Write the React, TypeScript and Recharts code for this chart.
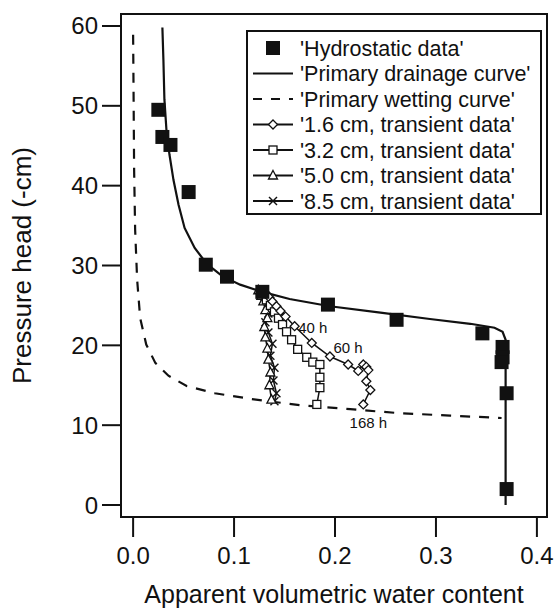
import React from 'react';
import {
  ScatterChart,
  Scatter,
  XAxis,
  YAxis,
  ReferenceArea,
  ReferenceDot,
} from 'recharts';

type Pt = { x: number; y: number };

// 'Hydrostatic data'
const hydrostatic: Pt[] = [
  { x: 0.025, y: 49.5 },
  { x: 0.029, y: 46.1 },
  { x: 0.037, y: 45.1 },
  { x: 0.055, y: 39.2 },
  { x: 0.072, y: 30.1 },
  { x: 0.093, y: 28.6 },
  { x: 0.128, y: 26.7 },
  { x: 0.193, y: 25.1 },
  { x: 0.261, y: 23.2 },
  { x: 0.346, y: 21.5 },
  { x: 0.366, y: 19.8 },
  { x: 0.366, y: 18.5 },
  { x: 0.365, y: 17.9 },
  { x: 0.37, y: 14.0 },
  { x: 0.37, y: 2.0 },
];

// 'Primary drainage curve'
const drainage: Pt[] = [
  { x: 0.029, y: 59.8 },
  { x: 0.03, y: 55.8 },
  { x: 0.031, y: 50.8 },
  { x: 0.033, y: 47.0 },
  { x: 0.036, y: 43.9 },
  { x: 0.04, y: 40.7 },
  { x: 0.045, y: 37.6 },
  { x: 0.051, y: 34.7 },
  { x: 0.061, y: 32.2 },
  { x: 0.073, y: 30.2 },
  { x: 0.088, y: 28.7 },
  { x: 0.106, y: 27.6 },
  { x: 0.128, y: 26.7 },
  { x: 0.155, y: 25.8 },
  { x: 0.195, y: 24.9 },
  { x: 0.245, y: 24.1 },
  { x: 0.294, y: 23.3 },
  { x: 0.334, y: 22.7 },
  { x: 0.358, y: 22.2 },
  { x: 0.366, y: 21.7 },
  { x: 0.369, y: 20.7 },
  { x: 0.369, y: 0 },
];

// 'Primary wetting curve'
const wetting: Pt[] = [
  { x: 0.0, y: 58.9 },
  { x: 0.0005, y: 50.8 },
  { x: 0.001, y: 42.0 },
  { x: 0.002, y: 34.5 },
  { x: 0.004, y: 28.2 },
  { x: 0.007, y: 23.4 },
  { x: 0.013, y: 20.1 },
  { x: 0.022, y: 17.8 },
  { x: 0.035, y: 16.2 },
  { x: 0.053, y: 14.9 },
  { x: 0.081, y: 14.0 },
  { x: 0.116, y: 13.3 },
  { x: 0.165, y: 12.5 },
  { x: 0.215, y: 12.0 },
  { x: 0.264, y: 11.5 },
  { x: 0.314, y: 11.2 },
  { x: 0.365, y: 10.9 },
];

// '1.6 cm, transient data'
const t16: Pt[] = [
  { x: 0.131, y: 26.6 },
  { x: 0.135, y: 26.0 },
  { x: 0.138, y: 25.5 },
  { x: 0.142, y: 24.9 },
  { x: 0.146, y: 24.3 },
  { x: 0.151, y: 23.6 },
  { x: 0.16, y: 22.4 },
  { x: 0.177, y: 20.3 },
  { x: 0.195, y: 18.6 },
  { x: 0.213, y: 17.6 },
  { x: 0.223, y: 16.8 },
  { x: 0.228, y: 17.6 },
  { x: 0.231, y: 17.3 },
  { x: 0.233, y: 16.9 },
  { x: 0.231, y: 15.5 },
  { x: 0.235, y: 14.4 },
  { x: 0.228, y: 12.6 },
];

// '3.2 cm, transient data'
const t32: Pt[] = [
  { x: 0.128, y: 26.5 },
  { x: 0.132, y: 25.7 },
  { x: 0.136, y: 25.0 },
  { x: 0.14, y: 24.2 },
  { x: 0.144, y: 23.4 },
  { x: 0.148, y: 22.6 },
  { x: 0.152, y: 21.7 },
  { x: 0.157, y: 20.7 },
  { x: 0.163, y: 19.5 },
  { x: 0.172, y: 18.5 },
  { x: 0.178, y: 17.9 },
  { x: 0.185, y: 17.6 },
  { x: 0.185, y: 16.0 },
  { x: 0.185, y: 14.7 },
  { x: 0.182, y: 12.6 },
];

// '5.0 cm, transient data'
const t50: Pt[] = [
  { x: 0.124, y: 26.9 },
  { x: 0.127, y: 26.2 },
  { x: 0.129, y: 25.5 },
  { x: 0.131, y: 24.4 },
  { x: 0.133, y: 23.4 },
  { x: 0.13, y: 22.3 },
  { x: 0.131, y: 21.0 },
  { x: 0.133, y: 19.6 },
  { x: 0.134, y: 18.2 },
  { x: 0.136, y: 16.6 },
  { x: 0.135, y: 15.0 },
  { x: 0.137, y: 13.2 },
];

// '8.5 cm, transient data'
const t85: Pt[] = [
  { x: 0.126, y: 26.7 },
  { x: 0.13, y: 26.0 },
  { x: 0.133, y: 25.1 },
  { x: 0.134, y: 24.0 },
  { x: 0.131, y: 22.9 },
  { x: 0.134, y: 21.6 },
  { x: 0.138, y: 20.2 },
  { x: 0.136, y: 18.7 },
  { x: 0.14, y: 17.2 },
  { x: 0.139, y: 15.6 },
  { x: 0.142, y: 14.0 },
  { x: 0.14, y: 13.0 },
];

const timeLabels = [
  { text: '40 h', x: 0.178, y: 22.2 },
  { text: '60 h', x: 0.213, y: 19.7 },
  { text: '168 h', x: 0.233, y: 10.3 },
];

const xTicks = [0, 0.1, 0.2, 0.3, 0.4];
const yTicks = [0, 10, 20, 30, 40, 50, 60];

const FONT = '"Liberation Sans", Arial, sans-serif';
const INK = '#111';

const none = () => <g />;

function Square(props: any) {
  const { cx, cy } = props;
  return <rect x={cx - 7} y={cy - 7} width={14} height={14} fill={INK} />;
}

function Diamond(props: any) {
  const { cx, cy } = props;
  const r = 4.5;
  return (
    <polygon
      points={`${cx},${cy - r} ${cx + r},${cy} ${cx},${cy + r} ${cx - r},${cy}`}
      fill="#fff"
      stroke={INK}
      strokeWidth={1.3}
    />
  );
}

function OpenSquare(props: any) {
  const { cx, cy } = props;
  return (
    <rect x={cx - 4} y={cy - 4} width={8} height={8} fill="#fff" stroke={INK} strokeWidth={1.3} />
  );
}

function Triangle(props: any) {
  const { cx, cy } = props;
  return (
    <polygon
      points={`${cx},${cy - 5} ${cx + 4.5},${cy + 3.5} ${cx - 4.5},${cy + 3.5}`}
      fill="#fff"
      stroke={INK}
      strokeWidth={1.3}
    />
  );
}

function Cross(props: any) {
  const { cx, cy } = props;
  const r = 4;
  return (
    <g stroke={INK} strokeWidth={1.4}>
      <line x1={cx - r} y1={cy - r} x2={cx + r} y2={cy + r} />
      <line x1={cx - r} y1={cy + r} x2={cx + r} y2={cy - r} />
    </g>
  );
}

const legendRows = [
  { name: "'Hydrostatic data'", kind: 'square' },
  { name: "'Primary drainage curve'", kind: 'solid' },
  { name: "'Primary wetting curve'", kind: 'dashed' },
  { name: "'1.6 cm, transient data'", kind: 'diamond' },
  { name: "'3.2 cm, transient data'", kind: 'osquare' },
  { name: "'5.0 cm, transient data'", kind: 'triangle' },
  { name: "'8.5 cm, transient data'", kind: 'cross' },
];

function LegendBox() {
  const left = 247;
  const top = 31;
  const w = 294;
  const h = 183;
  return (
    <svg
      width={w + 4}
      height={h + 4}
      style={{ position: 'absolute', left: left - 2, top: top - 2 }}
    >
      <rect x={2} y={2} width={w} height={h} fill="#fff" stroke={INK} strokeWidth={2} />
      {legendRows.map((r, i) => {
        const cy = 19 + i * 25.5;
        const cx = 28;
        const line = r.kind !== 'square' && (
          <line
            x1={cx - 20}
            x2={cx + 20}
            y1={cy}
            y2={cy}
            stroke={INK}
            strokeWidth={2}
            strokeDasharray={r.kind === 'dashed' ? '9 9' : undefined}
          />
        );
        let mark: React.ReactNode = null;
        if (r.kind === 'square') mark = <Square cx={cx} cy={cy} />;
        if (r.kind === 'diamond') mark = <Diamond cx={cx} cy={cy} />;
        if (r.kind === 'osquare') mark = <OpenSquare cx={cx} cy={cy} />;
        if (r.kind === 'triangle') mark = <Triangle cx={cx} cy={cy} />;
        if (r.kind === 'cross') mark = <Cross cx={cx} cy={cy} />;
        return (
          <g key={r.name}>
            {line}
            {mark}
            <text x={55} y={cy + 7.5} fontSize={21.5} fontFamily={FONT} fill={INK}>
              {r.name}
            </text>
          </g>
        );
      })}
    </svg>
  );
}

export default function App() {
  const tickStyle = { fill: INK, fontSize: 24, fontFamily: FONT };
  return (
    <div style={{ position: 'absolute', left: 0, top: 0, width: 556, height: 611, background: '#fff' }}>
      <ScatterChart width={556} height={611} margin={{ top: 14, right: 9, bottom: 0, left: 0 }}>
        <XAxis
          type="number"
          dataKey="x"
          domain={[-0.012, 0.41]}
          ticks={xTicks}
          tickFormatter={(v: number) => v.toFixed(1)}
          axisLine={false}
          tickSize={20}
          tickMargin={10}
          tickLine={{ stroke: INK, strokeWidth: 2 }}
          tick={tickStyle}
          height={94}
          allowDataOverflow
          label={{
            value: 'Apparent volumetric water content',
            position: 'insideBottom',
            offset: 8,
            style: { fill: INK, fontSize: 25, fontFamily: FONT },
          }}
        />
        <YAxis
          type="number"
          dataKey="y"
          domain={[-1.5, 61.5]}
          ticks={yTicks}
          axisLine={false}
          tickSize={19}
          tickMargin={4}
          tickLine={{ stroke: INK, strokeWidth: 2 }}
          tick={tickStyle}
          width={121}
          allowDataOverflow
          label={{
            value: 'Pressure head (-cm)',
            angle: -90,
            position: 'insideLeft',
            offset: 22,
            style: { fill: INK, fontSize: 26, fontFamily: FONT, textAnchor: 'middle' },
          }}
        />
        <ReferenceArea
          x1={-0.012}
          x2={0.41}
          y1={-1.5}
          y2={61.5}
          fill="none"
          fillOpacity={0}
          stroke={INK}
          strokeWidth={2}
        />
        <Scatter
          name="Primary wetting curve"
          data={wetting}
          shape={none}
          line={{ stroke: INK, strokeWidth: 2.2, strokeDasharray: '10 9' }}
          lineType="joint"
          isAnimationActive={false}
        />
        <Scatter
          name="Primary drainage curve"
          data={drainage}
          shape={none}
          line={{ stroke: INK, strokeWidth: 2.2 }}
          lineType="joint"
          isAnimationActive={false}
        />
        <Scatter
          name="8.5 cm"
          data={t85}
          shape={Cross}
          line={{ stroke: INK, strokeWidth: 1.5 }}
          lineType="joint"
          isAnimationActive={false}
        />
        <Scatter
          name="5.0 cm"
          data={t50}
          shape={Triangle}
          line={{ stroke: INK, strokeWidth: 1.5 }}
          lineType="joint"
          isAnimationActive={false}
        />
        <Scatter
          name="3.2 cm"
          data={t32}
          shape={OpenSquare}
          line={{ stroke: INK, strokeWidth: 1.5 }}
          lineType="joint"
          isAnimationActive={false}
        />
        <Scatter
          name="1.6 cm"
          data={t16}
          shape={Diamond}
          line={{ stroke: INK, strokeWidth: 1.5 }}
          lineType="joint"
          isAnimationActive={false}
        />
        <Scatter
          name="Hydrostatic data"
          data={hydrostatic}
          shape={Square}
          isAnimationActive={false}
        />
        {timeLabels.map((l) => (
          <ReferenceDot
            key={l.text}
            x={l.x}
            y={l.y}
            r={0}
            fill="none"
            stroke="none"
            label={{ value: l.text, position: 'center', style: { fill: INK, fontSize: 15, fontFamily: FONT } }}
          />
        ))}
      </ScatterChart>
      <LegendBox />
    </div>
  );
}
